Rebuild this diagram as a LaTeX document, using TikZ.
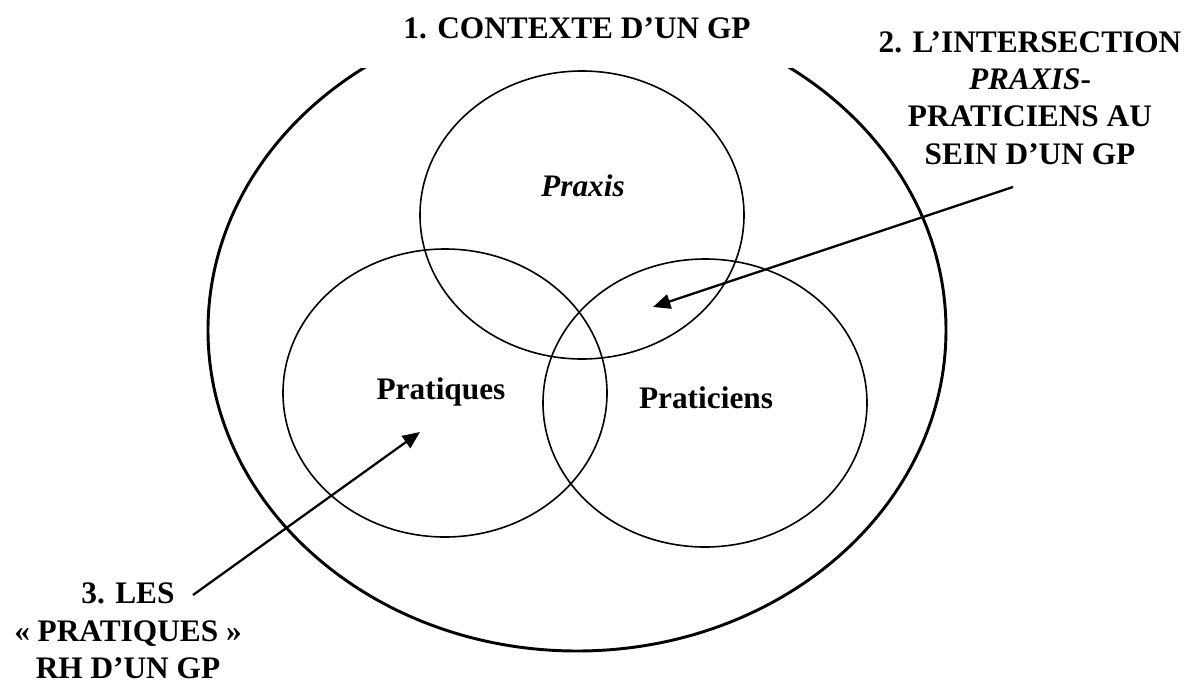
\documentclass[tikz,border=0pt]{standalone}
\usepackage{fontspec}
\setmainfont{Liberation Serif}
\usepackage{tikz}
\usetikzlibrary{arrows.meta}

\begin{document}
\begin{tikzpicture}[x=0.75pt,y=0.75pt,yscale=-1,xscale=1,
  bigring/.style={line width=2.2pt},
  ring/.style={line width=1.2pt},
  pointer/.style={line width=1.7pt,-{Triangle[length=13pt,width=11pt]}},
  lbl/.style={font=\fontsize{23.5}{28}\selectfont\bfseries,align=center,inner sep=0.75pt},
  ]
\useasboundingbox (0,0) rectangle (1200,686);

%Shape: Ellipse (context)
\draw [bigring] (577,330) ellipse (369 and 321);
%Shape: Rectangle (white band behind the title)
\path [fill=white] (345,0) rectangle (805,68);

%Shape: Circle (Praxis)
\draw [ring] (582,215) ellipse (162 and 144);
%Shape: Circle (Pratiques)
\draw [ring] (445,393) ellipse (162 and 144);
%Shape: Circle (Praticiens)
\draw [ring] (705,403) ellipse (162 and 144);

% Text Node
\node (ctx) [lbl,anchor=base] at (577,38) {1. CONTEXTE D’UN GP};
% Text Node
\node (inter) [lbl] at (1030,98) {2. L’INTERSECTION\\\textit{PRAXIS}-\\PRATICIENS AU\\SEIN D’UN GP};
% Text Node
\node (rh) [lbl] at (128,631) {3. LES\\« PRATIQUES »\\RH D’UN GP};
% Text Node
\node (praxis) [lbl,font=\fontsize{23.5}{28}\selectfont\bfseries\itshape] at (583,186) {Praxis};
% Text Node
\node (pratiques) [lbl] at (441,392) {Pratiques};
% Text Node
\node (praticiens) [lbl] at (706,398) {Praticiens};

% Arrows
\coordinate (interTail) at (1013,187);
\coordinate (interTip) at (653,307);
\coordinate (rhTail) at (193,595);
\coordinate (rhTip) at (420,432);
\draw [pointer] (interTail) -- (interTip);
\draw [pointer] (rhTail) -- (rhTip);

\end{tikzpicture}
\end{document}
